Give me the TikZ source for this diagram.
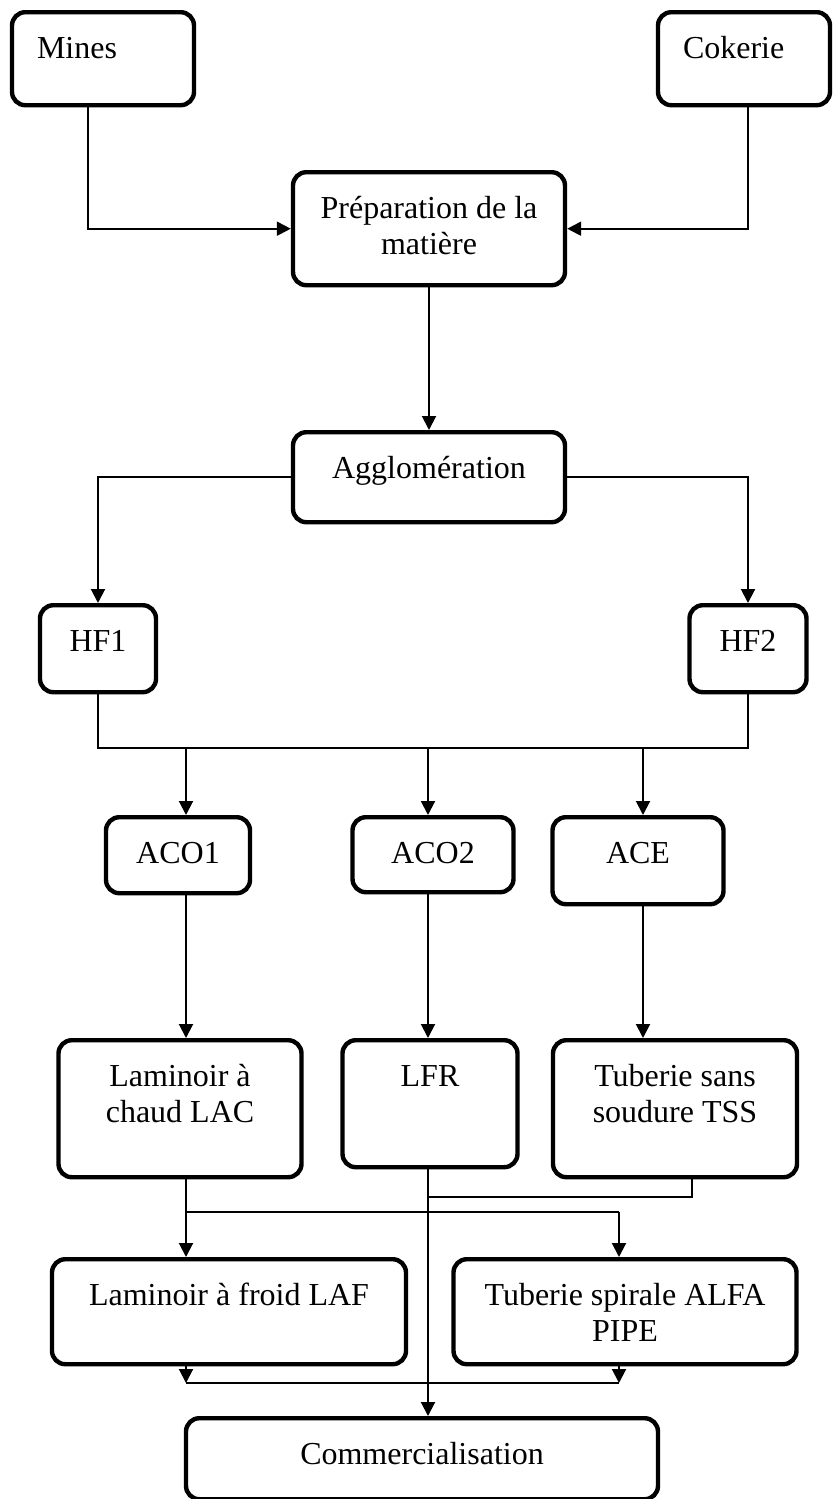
\documentclass[tikz,border=0pt]{standalone}
\usepackage{fontspec}
\setmainfont{Liberation Serif}
\usetikzlibrary{arrows.meta}

\begin{document}
\begin{tikzpicture}[x=0.75pt,y=-0.75pt,font=\fontsize{24}{27}\selectfont,
  b/.style={draw,line width=3.3pt,rounded corners=10pt,anchor=north,align=center,
    inner xsep=2pt,inner ysep=0pt,text height=34.5pt},
  bb/.style={b,text height=61.5pt},
  bl/.style={b,align=left,inner xsep=18.75pt},
  l/.style={line width=1.5pt},
  a/.style={l,-{Triangle[length=10.5pt,width=10.5pt]}}]
\useasboundingbox (0,0) rectangle (832,1499);

% sources
\node[bl,text width=99pt,text depth=35.25pt] (mines) at (103,10) {Mines};
\node[bl,text width=91.5pt,text depth=35.25pt] (cok) at (744,10) {Cokerie};
\node[bb,minimum width=204pt,text depth=23.25pt] (prep) at (429,170) {Préparation de la\\matière};
\node[b,minimum width=204pt,text depth=33pt] (agg) at (429,430) {Agglomération};

% hauts fourneaux
\node[b,minimum width=87pt,text depth=30.75pt] (hf1) at (98,603) {HF1};
\node[b,minimum width=87.75pt,text depth=30.75pt] (hf2) at (748,603) {HF2};

% aciéries
\node[b,minimum width=108pt,text depth=22.5pt] (aco1) at (178,815) {ACO1};
\node[b,minimum width=120.75pt,text depth=21.75pt] (aco2) at (433,815) {ACO2};
\node[b,minimum width=128.25pt,text depth=30.75pt] (ace) at (638,815) {ACE};

% laminoirs / tuberies
\node[bb,minimum width=182.25pt,text depth=41.25pt] (lac) at (180,1038) {Laminoir à\\chaud LAC};
\node[b,minimum width=131.25pt,text depth=60.75pt] (lfr) at (430,1038) {LFR};
\node[bb,minimum width=183pt,text depth=41.25pt] (tss) at (675,1038) {Tuberie sans\\soudure TSS};
\node[b,minimum width=265.5pt,text depth=44.25pt] (laf) at (229,1257) {Laminoir à froid LAF};
\node[bb,minimum width=257.25pt,text depth=17.25pt] (alfa) at (625,1257) {Tuberie spirale ALFA\\PIPE};
\node[b,minimum width=354pt,text depth=26.25pt] (com) at (422,1416) {Commercialisation};

% columns and rows of the connectors
\coordinate (k1) at (186,0);
\coordinate (k2) at (428,0);
\coordinate (k3) at (643,0);
\coordinate (k4) at (619,0);
\coordinate (k5) at (692,0);
\coordinate (bus) at (0,748);
\coordinate (r1) at (0,1212);
\coordinate (r2) at (0,1197);
\coordinate (r3) at (0,1383);

\draw[a] ([xshift=-11.25pt]mines.south) |- (prep.west);
\draw[a] ([xshift=3pt]cok.south) |- (prep.east);
\draw[a] (prep.south) -- (agg.north);
\draw[a] (agg.west) -| (hf1.north);
\draw[a] (agg.east) -| (hf2.north);
\draw[l] (hf1.south) -- (hf1.south |- bus) -- (hf2.south |- bus) -- (hf2.south);
\draw[a] (k1 |- bus) -- (k1 |- aco1.north);
\draw[a] (k2 |- bus) -- (k2 |- aco2.north);
\draw[a] (k3 |- bus) -- (k3 |- ace.north);
\draw[a] (k1 |- aco1.south) -- (k1 |- lac.north);
\draw[a] (k2 |- aco2.south) -- (k2 |- lfr.north);
\draw[a] (k3 |- ace.south) -- (k3 |- tss.north);
\draw[l] (k1 |- lac.south) -- (k1 |- r1) -- (k4 |- r1);
\draw[a] (k1 |- r1) -- (k1 |- laf.north);
\draw[a] (k4 |- r1) -- (k4 |- alfa.north);
\draw[l] (k5 |- tss.south) |- (k2 |- r2);
\draw[a] (k2 |- lfr.south) -- (k2 |- com.north);
\draw[a] (k1 |- laf.south) -- (k1 |- r3);
\draw[a] (k4 |- alfa.south) -- (k4 |- r3);
\draw[l] (k1 |- r3) -- (k4 |- r3);
\end{tikzpicture}
\end{document}
